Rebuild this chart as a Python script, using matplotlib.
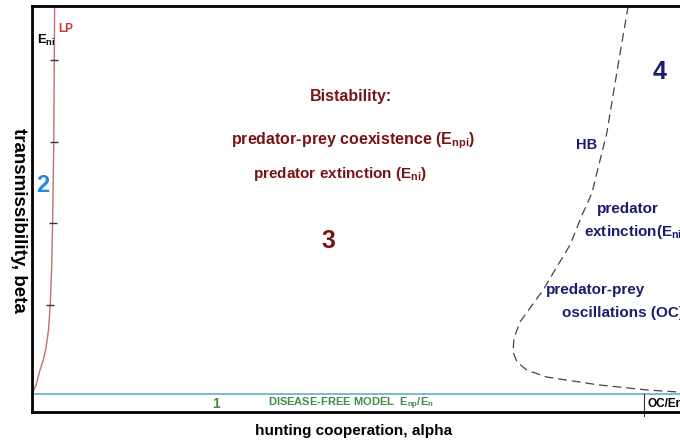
import matplotlib
matplotlib.use("Agg")
import matplotlib.pyplot as plt

plt.rcParams['font.family'] = ['Liberation Sans', 'DejaVu Sans']
plt.rcParams['font.weight'] = 'bold'
plt.rcParams['mathtext.fontset'] = 'custom'
plt.rcParams['mathtext.rm'] = 'Liberation Sans:bold'
plt.rcParams['mathtext.bf'] = 'Liberation Sans:bold'
plt.rcParams['mathtext.it'] = 'Liberation Sans:bold'
plt.rcParams['mathtext.default'] = 'bf'

# ---- data (normalised alpha, beta) ----
beta_df = 0.0443  # disease-free boundary

lp_alpha = [0.0, 0.0062, 0.0123, 0.0174, 0.0216, 0.0255, 0.0282, 0.0302, 0.0318, 0.0336, 0.0344, 0.0349]
lp_beta = [0.0443, 0.0665, 0.103, 0.128, 0.158, 0.202, 0.264, 0.350, 0.466, 0.665, 0.867, 1.0]
lp_tick_alpha = [0.0282, 0.0318, 0.0336, 0.0344]
lp_tick_beta = [0.264, 0.466, 0.665, 0.867]

hb_alpha = [0.920, 0.904, 0.887, 0.864, 0.8488, 0.8302, 0.8071, 0.7886, 0.7685, 0.7531,
            0.7438, 0.7423, 0.7485, 0.7639, 0.7948, 0.873, 0.951, 1.0]
hb_beta = [1.0, 0.850, 0.687, 0.539, 0.485, 0.411, 0.350, 0.300, 0.256, 0.222,
           0.182, 0.148, 0.123, 0.103, 0.086, 0.067, 0.054, 0.049]

oc_alpha = 0.944

fig = plt.figure(figsize=(6.8, 4.42), dpi=100)
ax = fig.add_axes([32/680, 30/442, 1 - 32/680, 406/442])
ax.set_xlim(0, 1)
ax.set_ylim(0, 1)
for s in ['left', 'bottom', 'top']:
    ax.spines[s].set_linewidth(2)
ax.spines['right'].set_visible(False)
ax.set_xticks([])
ax.set_yticks([])

dred = '#7a1414'
navy = '#1c1c6e'
green = '#3d8f45'

ax.axhline(beta_df, color='#6aaac8', lw=1.2, clip_on=False)
ax.plot(lp_alpha, lp_beta, color='#c07070', lw=1.0)
ax.plot(lp_tick_alpha, lp_tick_beta, ls='none', marker='_', ms=6, mew=1.0, color='#333333')
ax.plot(hb_alpha, hb_beta, color='#444444', lw=0.9, dashes=(7, 4))
ax.plot([oc_alpha, oc_alpha], [beta_df, -0.01], color='#333333', lw=0.8, clip_on=False)

T = ax.transAxes
def px(x, y):
    return ((x - 32) / 648, (412 - y) / 406)

ax.text(*px(37, 40), r'$E_{ni}$', transform=T, fontsize=9.5, color='black', va='center', ha='left')
ax.text(*px(58, 29), 'LP', transform=T, fontsize=8.5, color='#cc3333', va='center', ha='left')
ax.text(*px(43, 186), '2', transform=T, fontsize=17, color='#2288dd', va='center', ha='center')
ax.text(*px(351, 97), 'Bistability:', transform=T, fontsize=11.5, color=dred, va='center', ha='center')
ax.text(*px(353, 141), r'predator-prey coexistence ($E_{npi}$)', transform=T, fontsize=11.5, color=dred, va='center', ha='center')
ax.text(*px(253, 174), r'predator extinction ($E_{ni}$)', transform=T, fontsize=11, color=dred, va='center', ha='left')
ax.text(*px(328, 241), '3', transform=T, fontsize=18, color=dred, va='center', ha='center')
ax.text(*px(660, 72), '4', transform=T, fontsize=18, color=navy, va='center', ha='center')
ax.text(*px(587, 145), 'HB', transform=T, fontsize=10.5, color=navy, va='center', ha='center')
ax.text(*px(597, 209), 'predator', transform=T, fontsize=11, color=navy, va='center', ha='left')
ax.text(*px(584, 232), r'extinction($E_{ni}$', transform=T, fontsize=11, color=navy, va='center', ha='left')
ax.text(*px(546, 290), 'predator-prey', transform=T, fontsize=11, color=navy, va='center', ha='left')
ax.text(*px(562, 313), 'oscillations (OC)', transform=T, fontsize=11, color=navy, va='center', ha='left')
ax.text(*px(216, 404), '1', transform=T, fontsize=10, color=green, va='center', ha='center')
ax.text(*px(268, 404), r'DISEASE-FREE MODEL  $E_{np}$/$E_{n}$', transform=T, fontsize=8, color=green, va='center', ha='left')
ax.text(*px(647, 404), 'OC/En', transform=T, fontsize=8.5, color='black', va='center', ha='left')

fig.text(354/680, 1 - 431/442, 'hunting cooperation, alpha', fontsize=11, ha='center', va='center', color='black')
fig.text(18/680, 1 - 220/442, 'transmissibility, beta', fontsize=13.5,
         ha='center', va='center', rotation=-90, color='black')

fig.savefig('out.png', dpi=100)
